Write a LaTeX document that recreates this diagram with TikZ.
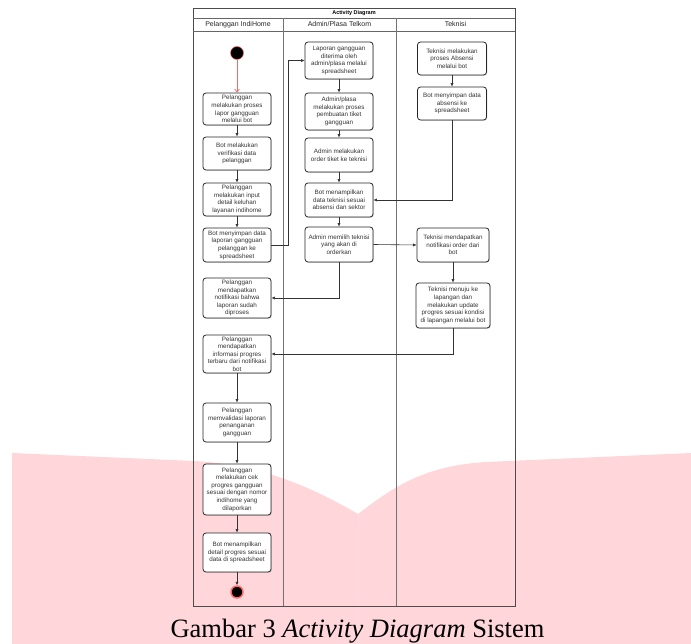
\documentclass[tikz,border=0pt]{standalone}
\usepackage{fontspec}
\setmainfont{Liberation Serif}
\newfontfamily\diagfont{Liberation Sans}
\usetikzlibrary{arrows.meta,shadows}

\definecolor{wmpink}{HTML}{FFD6DA}
\definecolor{flowred}{HTML}{FF6666}
\definecolor{boxtext}{HTML}{333333}

\tikzset{
  actbox/.style={draw=black!85, line width=0.8pt, rounded corners=3pt, fill=white,
    align=center, font=\diagfont\fontsize{6.3}{7.6}\selectfont, text=boxtext,
    inner sep=1pt, minimum width=68pt,
    drop shadow={shadow xshift=0.8pt,shadow yshift=-0.8pt,opacity=0.3}},
  flow/.style={draw=black!80, line width=0.6pt, -{Latex[length=3.5pt,width=3.2pt]}},
  startflow/.style={draw=flowred, line width=0.7pt, -{Straight Barb[length=3pt,width=4.5pt]}},
  lanehead/.style={font=\diagfont\fontsize{7}{8}\selectfont, text=black!85},
  lanerule/.style={draw=black!55, line width=1pt},
  startdot/.style={circle, fill=black, draw=flowred, line width=0.5pt, minimum size=13pt, inner sep=0pt},
  enddot/.style={circle, fill=black, draw=flowred, line width=1.4pt, minimum size=12pt, inner sep=0pt},
}

\begin{document}
\begin{tikzpicture}[x=1pt,y=-1pt]
    \useasboundingbox (0,0) rectangle (691,644);
    % watermark
    \fill[wmpink] (12,453) -- (194,461) .. controls (250,464) and (300,480) .. (358,514)
        .. controls (390,490) and (420,466) .. (486,462) -- (691,453) -- (691,644) -- (12,644) -- cycle;
    \draw[wmpink!85!white, line width=0.5pt] (358,514) -- (358,644);

    % swimlanes
    \draw[black!70, line width=0.8pt] (193,8) rectangle (515,606);
    \draw[black!60, line width=0.6pt] (193,18) -- (515,18);
    \draw[black!60, line width=0.6pt] (193,31) -- (515,31);
    \draw[lanerule] (283,18) -- (283,606);
    \draw[lanerule] (396,18) -- (396,606);
    \node[font=\diagfont\bfseries\fontsize{5.5}{6}\selectfont] (title) at (354,13) {Activity Diagram};
    \node[lanehead] (laneP) at (238,24.5) {Pelanggan IndiHome};
    \node[lanehead] (laneA) at (339.5,24.5) {Admin/Plasa Telkom};
    \node[lanehead] (laneT) at (455.5,24.5) {Teknisi};

    % Pelanggan IndiHome
    \node[startdot] (start) at (237,53) {};
    \node[actbox, minimum height=32pt] (L1) at (237,109) {Pelanggan\\melakukan proses\\lapor gangguan\\melalui bot};
    \node[actbox, minimum height=33pt] (L2) at (237,153.5) {Bot melakukan\\verifikasi data\\pelanggan};
    \node[actbox, minimum height=33pt] (L3) at (237,199.5) {Pelanggan\\melakukan input\\detail keluhan\\layanan indihome};
    \node[actbox, minimum height=34pt] (L4) at (237,245) {Bot menyimpan data\\laporan gangguan\\pelanggan ke\\spreadsheet};
    \node[actbox, minimum height=40pt] (L5) at (237,298) {Pelanggan\\mendapatkan\\notifikasi bahwa\\laporan sudah\\diproses};
    \node[actbox, minimum height=38pt] (L6) at (237,354) {Pelanggan\\mendapatkan\\informasi progres\\terbaru dari notifikasi\\bot};
    \node[actbox, minimum height=39pt] (L7) at (237,422.5) {Pelanggan\\memvalidasi laporan\\penanganan\\gangguan};
    \node[actbox, minimum height=51pt] (L8) at (237,489.5) {Pelanggan\\melakukan cek\\progres gangguan\\sesuai dengan nomor\\indihome yang\\dilaporkan};
    \node[actbox, minimum height=39pt] (L9) at (237,552.5) {Bot menampilkan\\detail progres sesuai\\data di spreadsheet};
    \node[enddot] (stop) at (237,592) {};

    % Admin/Plasa Telkom
    \node[actbox, minimum height=37pt] (M1) at (339,60.5) {Laporan gangguan\\diterima oleh\\admin/plasa melalui\\spreadsheet};
    \node[actbox, minimum height=37pt] (M2) at (339,111.5) {Admin/plasa\\melakukan proses\\pembuatan tiket\\gangguan};
    \node[actbox, minimum height=34pt] (M3) at (339,155) {Admin melakukan\\order tiket ke teknisi};
    \node[actbox, minimum height=34pt] (M4) at (339,200) {Bot menampilkan\\data teknisi sesuai\\absensi dan sektor};
    \node[actbox, minimum height=35pt] (M5) at (339,244.5) {Admin memilih teknisi\\yang akan di\\orderkan};

    % Teknisi
    \node[actbox, minimum height=33pt, minimum width=69pt] (T1) at (452,58.5) {Teknisi melakukan\\proses Absensi\\melalui bot};
    \node[actbox, minimum height=33pt, minimum width=69pt] (T2) at (452,103.5) {Bot menyimpan data\\absensi ke\\spreadsheet};
    \node[actbox, minimum height=34pt, minimum width=72pt] (T3) at (453,245) {Teknisi mendapatkan\\notifikasi order dari\\bot};
    \node[actbox, minimum height=45pt, minimum width=74pt] (T4) at (453,305.5) {Teknisi menuju ke\\lapangan dan\\melakukan update\\progres sesuai kondisi\\di lapangan melalui bot};

    % flows
    \draw[startflow] (start) -- (L1);
    \draw[flow] (L1) -- (L2);
    \draw[flow] (L2) -- (L3);
    \draw[flow] (L3) -- (L4);
    \draw[flow] (L4.east) -| ([xshift=17pt]L4.east |- M1.west) -- (M1.west);
    \draw[flow] (M1) -- (M2);
    \draw[flow] (M2) -- (M3);
    \draw[flow] (M3) -- (M4);
    \draw[flow] (M4) -- (M5);
    \draw[flow] (T1) -- (T2);
    \draw[flow] (T2.south) |- (M4.east);
    \draw[flow] (M5.east) -- (T3.west);
    \draw[flow] (M5.south) |- (L5.east);
    \draw[flow] (T3) -- (T4);
    \draw[flow] (T4.south) |- (L6.east);
    \draw[flow] (L6) -- (L7);
    \draw[flow] (L7) -- (L8);
    \draw[flow] (L8) -- (L9);
    \draw[flow] (L9) -- (stop);

    % caption
    \node[font=\fontsize{26.5}{30}\selectfont, anchor=base] (caption) at (357.5,637) {Gambar 3 \textit{Activity Diagram} Sistem};
\end{tikzpicture}
\end{document}
